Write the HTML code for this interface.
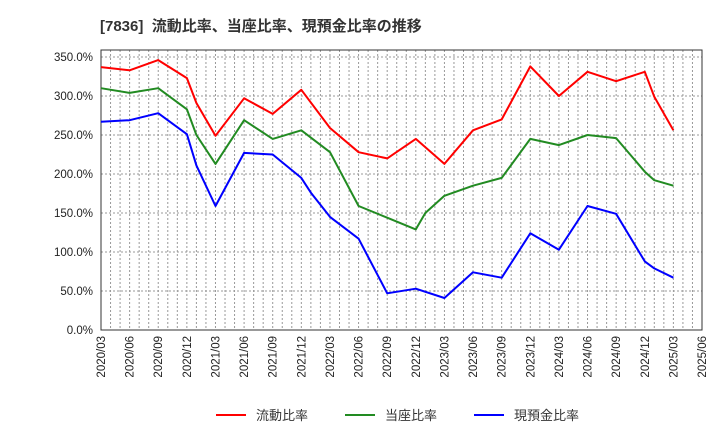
<!DOCTYPE html>
<html><head><meta charset="utf-8"><style>
body{margin:0;background:#fff;font-family:"Liberation Sans","Noto Sans CJK JP",sans-serif;}
</style></head><body>
<svg id="chart" width="720" height="440" xmlns="http://www.w3.org/2000/svg" font-family="Liberation Sans, Noto Sans CJK JP, sans-serif">
<text x="100" y="31" font-size="15" font-weight="bold" fill="#333" xml:space="preserve">[7836]  流動比率、当座比率、現預金比率の推移</text>
<g id="grid"></g><g id="axes"></g><g id="series"></g>
<g>
<g><line x1="216" y1="415" x2="246" y2="415" stroke="#f00" stroke-width="2"/><text x="256" y="420" font-size="13" fill="#333">流動比率</text></g>
<g><line x1="345" y1="415" x2="375" y2="415" stroke="#228b22" stroke-width="2"/><text x="385" y="420" font-size="13" fill="#333">当座比率</text></g>
<g><line x1="474" y1="415" x2="504" y2="415" stroke="#00f" stroke-width="2"/><text x="514" y="420" font-size="13" fill="#333">現預金比率</text></g>
</g>
</svg>
<script>
const dates=["2020/03","2020/06","2020/09","2020/12","2021/01","2021/03","2021/06","2021/09","2021/12","2022/01","2022/03","2022/06","2022/09","2022/12","2023/01","2023/03","2023/06","2023/09","2023/12","2024/03","2024/06","2024/09","2024/12","2025/01","2025/03"];
const currentRatio=[337,333,346,323,291,249,297,277,308,null,259,228,220,245,null,213,256,270,338,300,331,319,331,299,256];
const quickRatio=[310,304,310,283,250,213,269,245,256,null,228,159,144,129,150,172,185,195,245,237,250,246,203,192,185];
const cashRatio=[267,269,278,251,211,159,227,225,195,176,145,117,47,53,null,41,74,67,124,103,159,149,88,79,67];
const xTicks=["2020/03","2020/06","2020/09","2020/12","2021/03","2021/06","2021/09","2021/12","2022/03","2022/06","2022/09","2022/12","2023/03","2023/06","2023/09","2023/12","2024/03","2024/06","2024/09","2024/12","2025/03","2025/06"];
const yTicks=[0,50,100,150,200,250,300,350];
const NS="http://www.w3.org/2000/svg";
const L=101,R=702,T=57,B=330;
function mi(d){const [y,m]=d.split("/").map(Number);return (y-2020)*12+m-3;}
function xS(d){return L+mi(d)*(R-L)/63;}
function yS(v){return B-v*(B-T)/350;}
function mk(tag,attrs,parent){const e=document.createElementNS(NS,tag);for(const k in attrs)e.setAttribute(k,attrs[k]);parent.appendChild(e);return e;}
const grid=document.getElementById("grid"),axes=document.getElementById("axes"),ser=document.getElementById("series");
for(let m=1;m<63;m++){const x=L+m*(R-L)/63;const g=mk("line",{x1:x,y1:T-7,x2:x,y2:B,stroke:"#999","stroke-width":1,"stroke-dasharray":"2,2"},grid);

}
yTicks.forEach(v=>{const y=yS(v);const g=mk("line",{x1:L,y1:y,x2:R,y2:y,stroke:"#999","stroke-width":1,"stroke-dasharray":"2,2"},grid);


const t=mk("text",{x:93,y:y+4,"font-size":11.5,"text-anchor":"end",fill:"#222"},axes);t.textContent=v.toFixed(1)+"%";

});
xTicks.forEach(d=>{const x=xS(d);const t=mk("text",{x:0,y:0,"font-size":11.5,"text-anchor":"end",fill:"#222",transform:`translate(${x+4},336) rotate(-90)`},axes);t.textContent=d;

});
const frame=mk("rect",{x:L,y:T-7,width:R-L,height:B-T+7,fill:"none",stroke:"#333","stroke-width":1},axes);


function line(vals,color,name){let d="";vals.forEach((v,i)=>{if(v==null)return;d+=(d?"L":"M")+xS(dates[i]).toFixed(1)+","+yS(v).toFixed(1);});
const p=mk("path",{d:d,fill:"none",stroke:color,"stroke-width":2,"stroke-linejoin":"round"},ser);

}
line(currentRatio,"#f00","current-ratio-line");
line(quickRatio,"#228b22","quick-ratio-line");
line(cashRatio,"#00f","cash-ratio-line");
</script>
</body></html>
